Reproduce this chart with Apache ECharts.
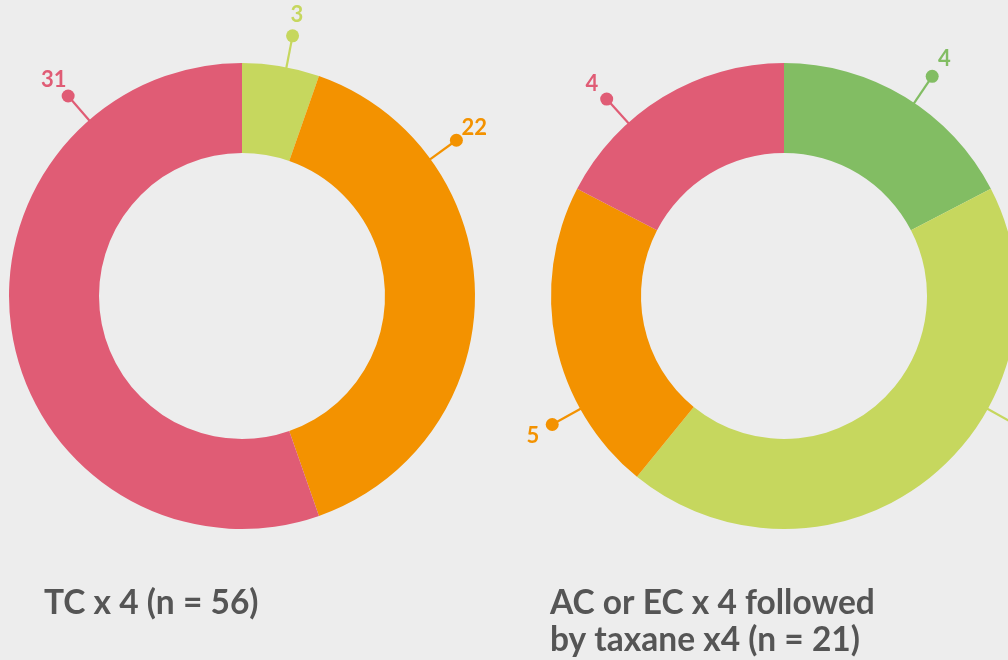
<!DOCTYPE html>
<html>
<head>
<meta charset="utf-8">
<script src="https://cdn.jsdelivr.net/npm/echarts@6/dist/echarts.min.js"></script>
<style>
  html, body { margin: 0; padding: 0; background: #ededed; }
  #chart { width: 1008px; height: 660px; }
</style>
</head>
<body>
<div id="chart"></div>
<script>
// ---- data ----
const leftTitle = 'TC x 4 (n = 56)';
const rightTitle = 'AC or EC x 4 followed\nby taxane x4 (n = 21)';

const leftNames = ['Light green', 'Orange', 'Pink'];
const leftValues = [3, 22, 31];

const rightNames = ['Green', 'Light green', 'Orange', 'Pink'];
const rightValues = [4, 10, 5, 4];

// ---- styles ----
const PINK = '#e05c75';
const ORANGE = '#f39200';
const LIGHT_GREEN = '#c6d75e';
const GREEN = '#82bd63';

const leftColors = [LIGHT_GREEN, ORANGE, PINK];
const rightColors = [GREEN, LIGHT_GREEN, ORANGE, PINK];

// where each callout sits round the ring (degrees, clockwise from 12 o'clock)
const leftLabelAngles = [11, 54, 319];
const rightLabelAngles = [34, 119, 241, 318];

const R_OUT = 233;
const R_IN = 143;
const DOT_GAP = 32;   // ring edge -> dot
const NUM_GAP = 54;   // ring edge -> number
const DOT = 13;

const FONT = 'Lato, "Open Sans", sans-serif';

// polar point helper for the callouts
function polar(center, angleDeg, r) {
  const a = angleDeg * Math.PI / 180;
  return [center[0] + r * Math.sin(a), center[1] - r * Math.cos(a)];
}

function donutSeries(center, names, values, colors, angles) {
  // ring + line + dot
  const ring = {
    type: 'pie',
    center: center,
    radius: [R_IN, R_OUT],
    startAngle: 90,
    clockwise: true,
    avoidLabelOverlap: false,
    silent: true,
    emphasis: { disabled: true },
    itemStyle: { borderWidth: 0 },
    label: {
      show: true,
      position: 'outside',
      formatter: ' ',
      fontSize: DOT,
      lineHeight: DOT,
      width: DOT,
      height: DOT,
      padding: 0,
      borderRadius: DOT / 2
    },
    labelLine: { show: true, length: DOT_GAP, length2: 0, lineStyle: { width: 2.2 } },
    labelLayout: params => {
      const a = angles[params.dataIndex];
      const p0 = polar(center, a, R_OUT - 1);
      const p1 = polar(center, a, R_OUT + DOT_GAP);
      return {
        x: p1[0], y: p1[1],
        align: 'center', verticalAlign: 'middle',
        width: DOT, height: DOT,
        labelLinePoints: [p0, p1, p1]
      };
    },
    data: values.map((v, i) => ({
      name: names[i],
      value: v,
      itemStyle: { color: colors[i] },
      label: { backgroundColor: colors[i] },
      labelLine: { lineStyle: { color: colors[i] } }
    }))
  };

  // numbers only (transparent sectors)
  const numbers = {
    type: 'pie',
    center: center,
    radius: [R_IN, R_OUT],
    startAngle: 90,
    clockwise: true,
    avoidLabelOverlap: false,
    silent: true,
    emphasis: { disabled: true },
    itemStyle: { color: 'transparent', borderWidth: 0 },
    label: {
      show: true,
      position: 'outside',
      formatter: '{c}',
      fontFamily: FONT,
      fontSize: 22,
      fontWeight: 'bold'
    },
    labelLine: { show: false },
    labelLayout: params => {
      const p = polar(center, angles[params.dataIndex], R_OUT + NUM_GAP);
      return { x: p[0], y: p[1] + 1, align: 'center', verticalAlign: 'middle', fontSize: 22 };
    },
    data: values.map((v, i) => ({
      name: names[i],
      value: v,
      itemStyle: { color: 'transparent' },
      label: { color: colors[i] }
    }))
  };

  return [ring, numbers];
}

const chart = echarts.init(document.getElementById('chart'), null, { renderer: 'canvas' });

const titleStyle = {
  fontFamily: FONT,
  fontSize: 33.5,
  fontWeight: 'bold',
  color: '#555555',
  lineHeight: 37
};

chart.setOption({
  backgroundColor: '#ededed',
  animation: false,
  title: [
    { text: leftTitle, left: 44, top: 585, padding: 0, textStyle: titleStyle },
    { text: rightTitle, left: 550, top: 585, padding: 0, textStyle: titleStyle }
  ],
  series: [
    ...donutSeries([242, 296], leftNames, leftValues, leftColors, leftLabelAngles),
    ...donutSeries([784, 296], rightNames, rightValues, rightColors, rightLabelAngles)
  ]
});
</script>
</body>
</html>
